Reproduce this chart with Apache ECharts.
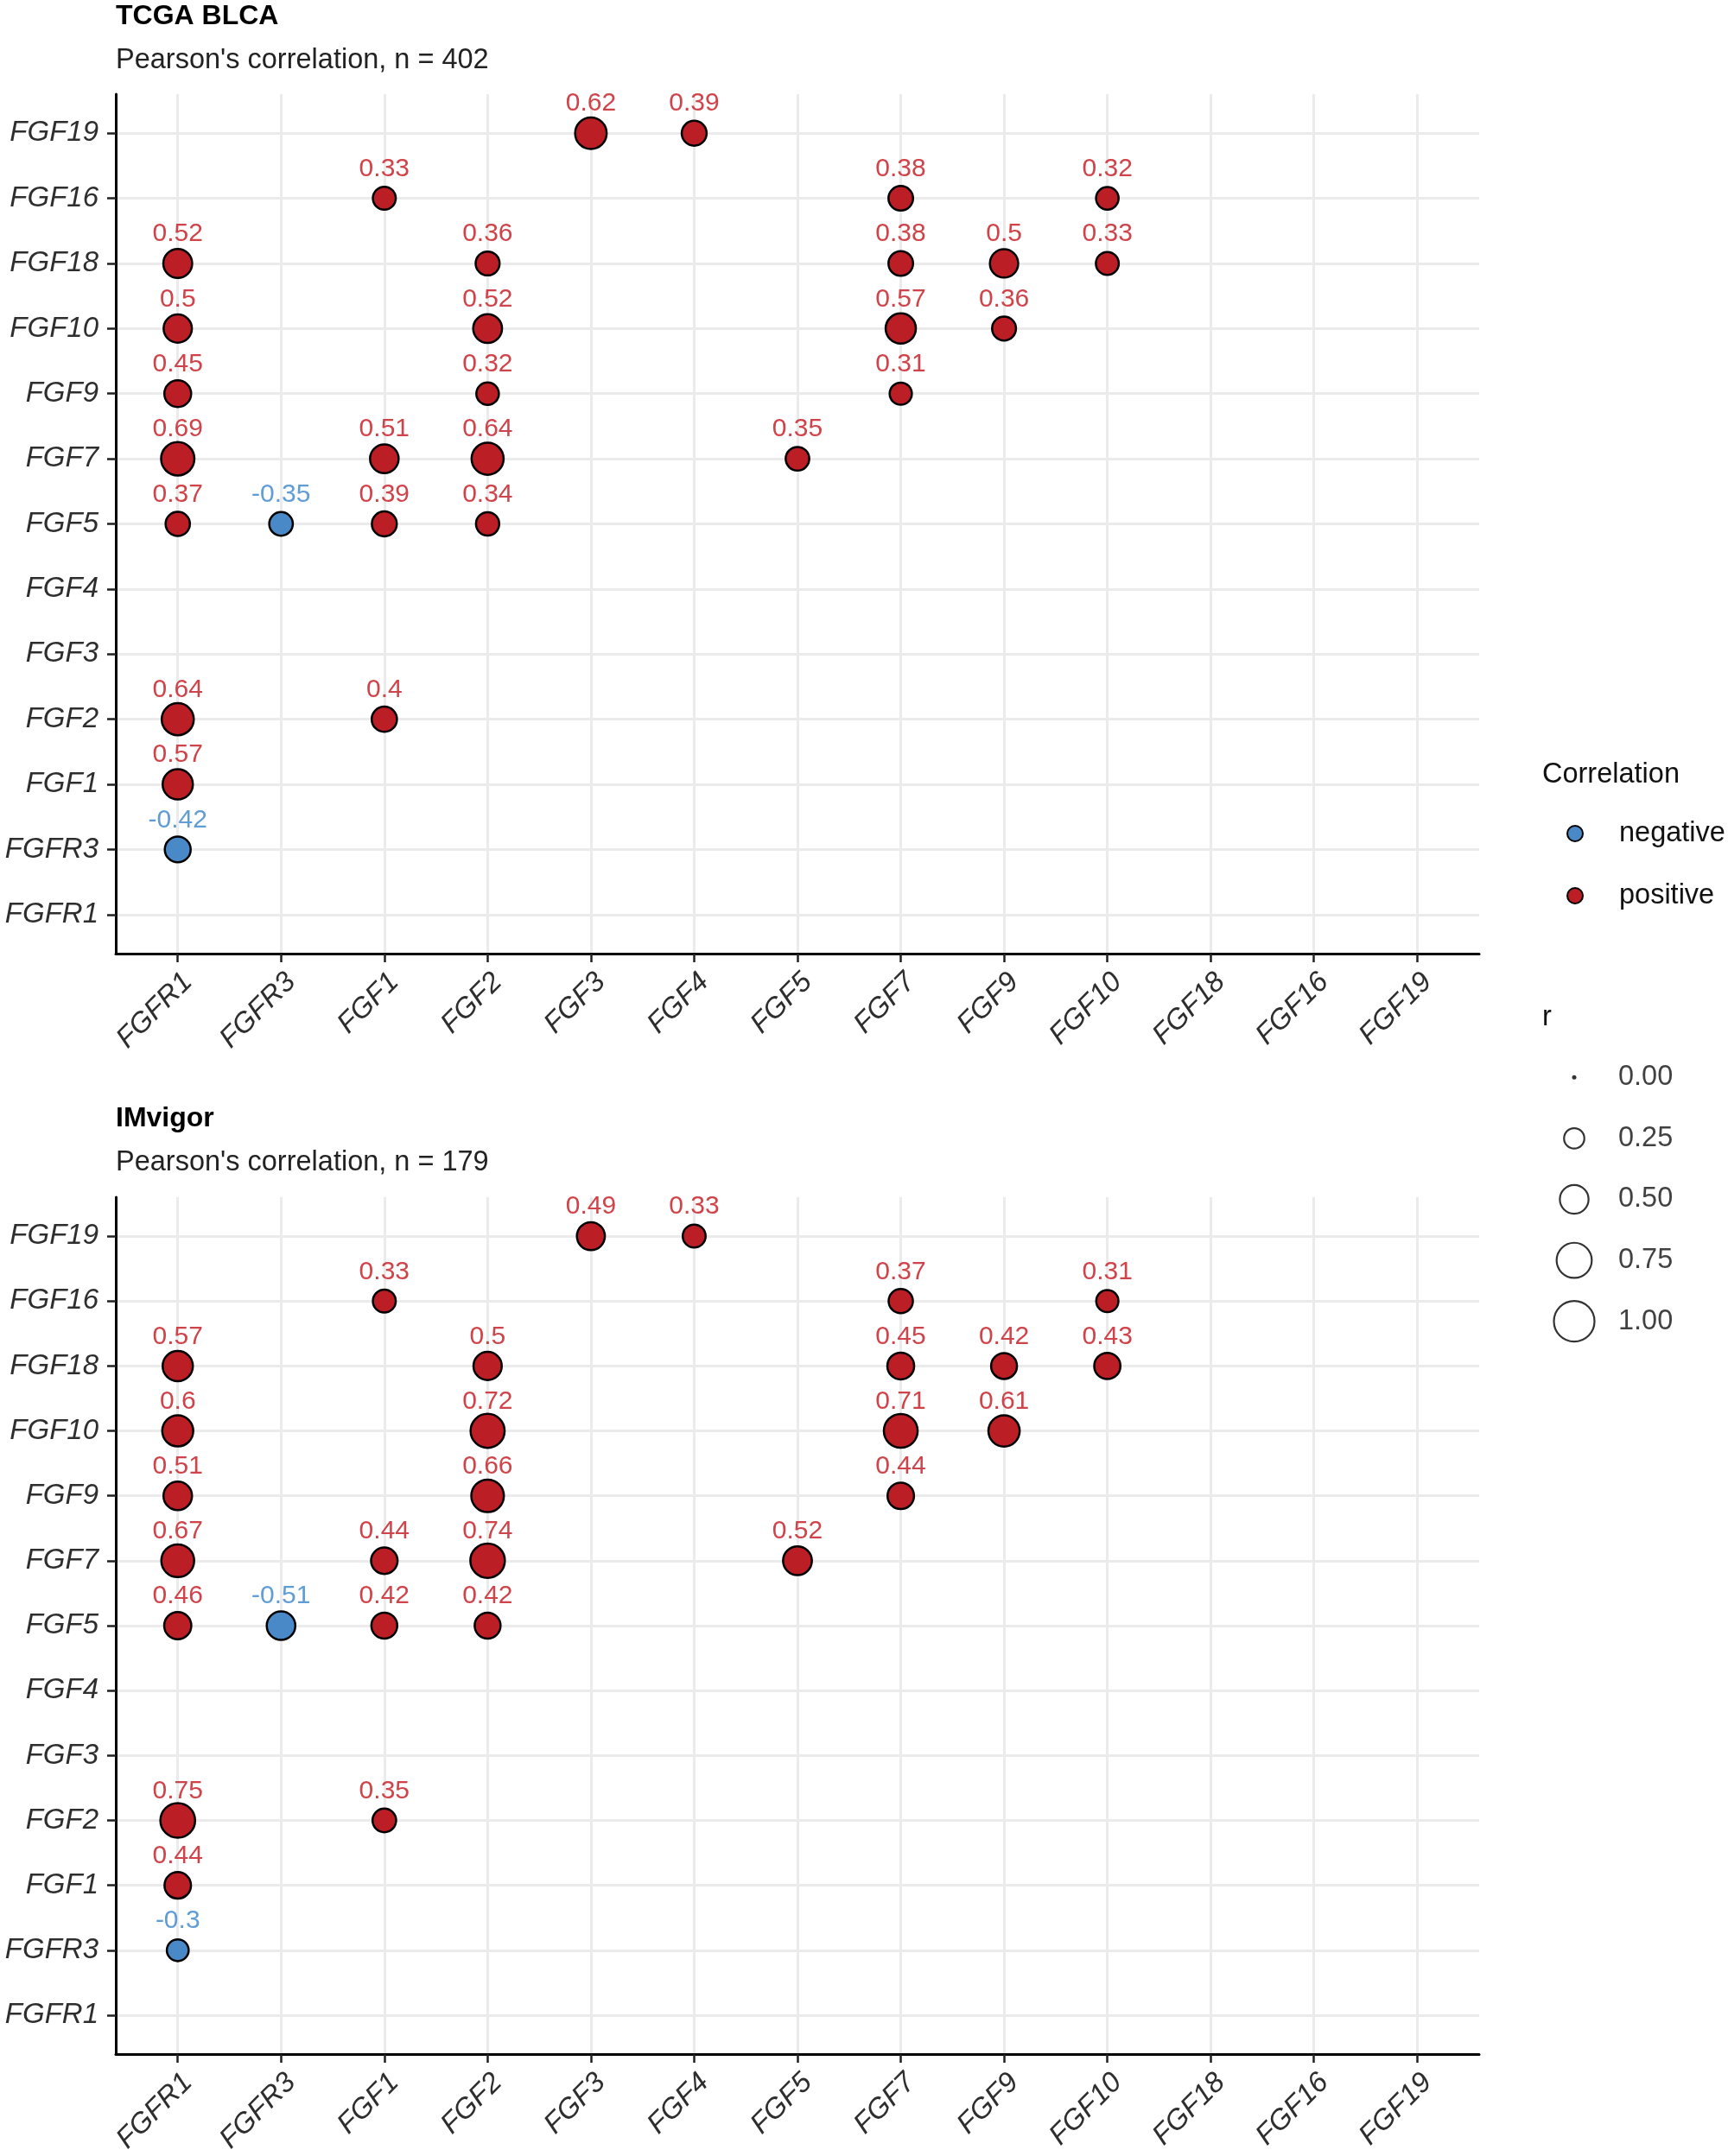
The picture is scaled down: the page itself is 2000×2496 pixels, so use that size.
<!DOCTYPE html>
<html><head><meta charset="utf-8">
<script src="https://cdn.jsdelivr.net/npm/echarts@6/dist/echarts.min.js"></script>
<style>html,body{margin:0;padding:0;background:#fff}#c{width:2000px;height:2496px}</style>
</head><body><div id="c"></div>
<script>
// ---------- data ----------
const genes = ['FGFR1','FGFR3','FGF1','FGF2','FGF3','FGF4','FGF5','FGF7','FGF9','FGF10','FGF18','FGF16','FGF19'];

const tcgaGeneX = ['FGF3','FGF4','FGF1','FGF7','FGF10','FGFR1','FGF2','FGF7','FGF9','FGF10','FGFR1','FGF2','FGF7','FGF9','FGFR1','FGF2','FGF7','FGFR1','FGF1','FGF2','FGF5','FGFR1','FGFR3','FGF1','FGF2','FGFR1','FGF1','FGFR1','FGFR1'];
const tcgaGeneY = ['FGF19','FGF19','FGF16','FGF16','FGF16','FGF18','FGF18','FGF18','FGF18','FGF18','FGF10','FGF10','FGF10','FGF10','FGF9','FGF9','FGF9','FGF7','FGF7','FGF7','FGF7','FGF5','FGF5','FGF5','FGF5','FGF2','FGF2','FGF1','FGFR3'];
const tcgaR     = [0.62,0.39,0.33,0.38,0.32,0.52,0.36,0.38,0.5,0.33,0.5,0.52,0.57,0.36,0.45,0.32,0.31,0.69,0.51,0.64,0.35,0.37,-0.35,0.39,0.34,0.64,0.4,0.57,-0.42];

const imGeneX = ['FGF3','FGF4','FGF1','FGF7','FGF10','FGFR1','FGF2','FGF7','FGF9','FGF10','FGFR1','FGF2','FGF7','FGF9','FGFR1','FGF2','FGF7','FGFR1','FGF1','FGF2','FGF5','FGFR1','FGFR3','FGF1','FGF2','FGFR1','FGF1','FGFR1','FGFR1'];
const imGeneY = ['FGF19','FGF19','FGF16','FGF16','FGF16','FGF18','FGF18','FGF18','FGF18','FGF18','FGF10','FGF10','FGF10','FGF10','FGF9','FGF9','FGF9','FGF7','FGF7','FGF7','FGF7','FGF5','FGF5','FGF5','FGF5','FGF2','FGF2','FGF1','FGFR3'];
const imR     = [0.49,0.33,0.33,0.37,0.31,0.57,0.5,0.45,0.42,0.43,0.6,0.72,0.71,0.61,0.51,0.66,0.44,0.67,0.44,0.74,0.52,0.46,-0.51,0.42,0.42,0.75,0.35,0.44,-0.3];

const sizeBreaks = [0, 0.25, 0.5, 0.75, 1];
const sizeLabels = ['0.00','0.25','0.50','0.75','1.00'];

// ---------- style ----------
const FONT = 'Liberation Sans, Arial, Helvetica, sans-serif';
const RED = '#BB1E25', BLUE = '#4A89C8';
const RED_TXT = '#CF444A', BLUE_TXT = '#609DD4';
const sizeOf = a => Math.max(2, 47 * Math.sqrt(Math.abs(a)) - 0.5);

function pts(gx, gy, r, sign) {
  const out = [];
  for (let i = 0; i < r.length; i++) {
    if ((sign > 0 && r[i] > 0) || (sign < 0 && r[i] < 0)) {
      out.push([genes.indexOf(gx[i]), genes.indexOf(gy[i]), r[i]]);
    }
  }
  return out;
}

const idx = genes.map((g, i) => i);
const geneFmt = v => genes[Math.round(v)];
function axisPair(gi) {
  const mk = (isX) => ({
    type: 'value', gridIndex: gi, min: -0.6, max: 12.6,
    axisLine: { show: true, onZero: false, lineStyle: { color: '#000', width: 3 } },
    axisTick: { show: true, customValues: idx, length: 10, lineStyle: { color: '#222', width: 2.5 } },
    splitLine: { show: true, lineStyle: { color: '#EBEBEB', width: 3 } },
    axisLabel: Object.assign({ customValues: idx, formatter: geneFmt, color: '#2e2e2e',
      fontFamily: FONT, fontStyle: 'italic', fontSize: 33 },
      isX ? { rotate: 45, margin: 16, verticalAlign: 'top' } : { margin: 20 })
  });
  return [mk(true), mk(false)];
}
const [x0, y0] = axisPair(0);
const [x1, y1] = axisPair(1);

function scatter(name, gi, data, fill, txt) {
  return {
    type: 'scatter', name: name, xAxisIndex: gi, yAxisIndex: gi, data: data,
    symbol: 'circle', symbolSize: v => sizeOf(v[2]),
    itemStyle: { color: fill, borderColor: '#000', borderWidth: 2.5, opacity: 1 },
    label: { show: true, position: 'inside', offset: [0, -34], formatter: p => String(p.value[2]),
      color: txt, fontFamily: FONT, fontSize: 30 },
    emphasis: { disabled: true }, z: 3
  };
}

const titleStyle = { fontFamily: FONT, fontSize: 32, fontWeight: 'bold', color: '#000', lineHeight: 36 };
const subStyle = { fontFamily: FONT, fontSize: 32.5, fontWeight: 'normal', color: '#222', lineHeight: 36 };

const option = {
  animation: false,
  backgroundColor: '#fff',
  title: [
    { text: 'TCGA BLCA', left: 134, top: 1, padding: 0, textStyle: titleStyle },
    { text: "Pearson's correlation, n = 402", left: 134, top: 52, padding: 0, textStyle: subStyle },
    { text: 'IMvigor', left: 134, top: 1277, padding: 0, textStyle: titleStyle },
    { text: "Pearson's correlation, n = 179", left: 134, top: 1328, padding: 0, textStyle: subStyle },
    { text: 'Correlation', left: 1785, top: 879, padding: 0, textStyle: Object.assign({}, subStyle, { color: '#111' }) },
    { text: 'r', left: 1785, top: 1160, padding: 0, textStyle: Object.assign({}, subStyle, { color: '#111' }) }
  ],
  legend: {
    data: ['negative', 'positive'], orient: 'vertical', left: 1813, top: 947, padding: 0,
    icon: 'circle', itemWidth: 18, itemHeight: 18, itemGap: 36,
    textStyle: { fontFamily: FONT, fontSize: 32.5, color: '#111', lineHeight: 36, padding: [0, 0, 0, 37] },
    selectedMode: false
  },
  grid: [
    { left: 134, top: 109, width: 1578, height: 995, containLabel: false },
    { left: 134, top: 1386, width: 1578, height: 995, containLabel: false },
    { left: 1790, top: 1212, width: 64, height: 353, containLabel: false }
  ],
  xAxis: [x0, x1, { type: 'value', gridIndex: 2, min: 0, max: 1, show: false }],
  yAxis: [y0, y1, { type: 'value', gridIndex: 2, min: -0.5, max: 4.5, inverse: true, show: false }],
  series: [
    scatter('negative', 0, pts(tcgaGeneX, tcgaGeneY, tcgaR, -1), BLUE, BLUE_TXT),
    scatter('positive', 0, pts(tcgaGeneX, tcgaGeneY, tcgaR, 1), RED, RED_TXT),
    scatter('negative', 1, pts(imGeneX, imGeneY, imR, -1), BLUE, BLUE_TXT),
    scatter('positive', 1, pts(imGeneX, imGeneY, imR, 1), RED, RED_TXT),
    {
      type: 'scatter', name: 'r', xAxisIndex: 2, yAxisIndex: 2,
      data: sizeBreaks.map((b, i) => ({
        value: [0.5, i, b],
        itemStyle: b === 0 ? { color: '#000', borderWidth: 0 } : { color: 'rgba(255,255,255,0)', borderColor: '#000', borderWidth: 2.2 }
      })),
      symbol: 'circle',
      symbolSize: v => v[2] === 0 ? 5 : 47 * Math.sqrt(v[2]),
      label: { show: true, position: 'inside', align: 'left', offset: [51, 0],
        formatter: p => sizeLabels[p.dataIndex], color: '#111', fontFamily: FONT, fontSize: 32.5 },
      emphasis: { disabled: true }, silent: true
    }
  ]
};

const chart = echarts.init(document.getElementById('c'), null, { renderer: 'canvas' });
chart.setOption(option);
</script>
</body></html>
